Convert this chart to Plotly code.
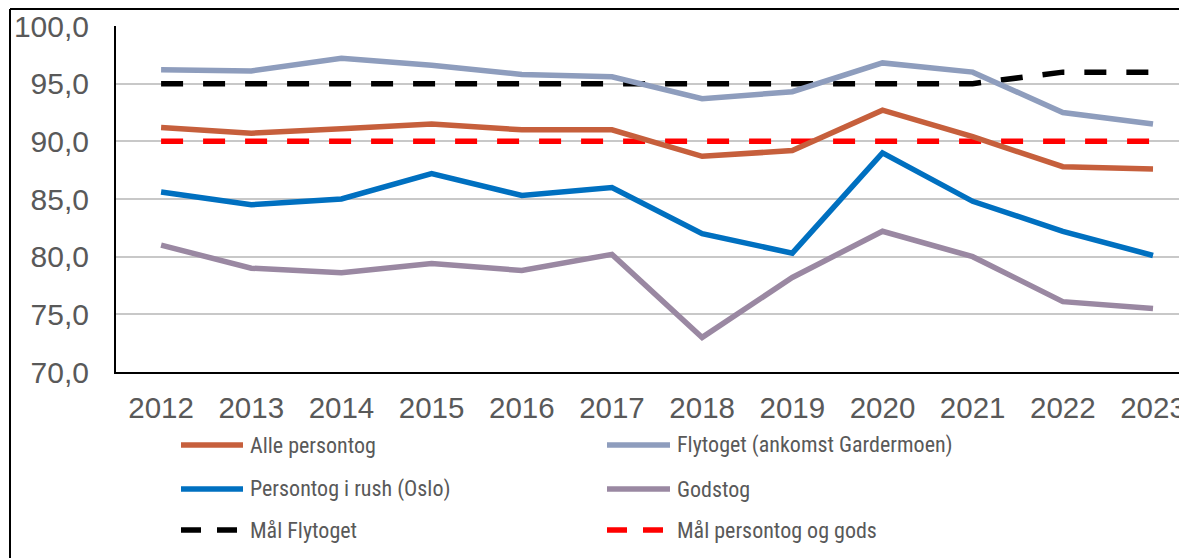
import plotly.graph_objects as go

years = [str(y) for y in range(2012, 2024)]
alle_persontog = [91.2, 90.7, 91.1, 91.5, 91.0, 91.0, 88.7, 89.2, 92.7, 90.4, 87.8, 87.6]
flytoget = [96.2, 96.1, 97.2, 96.6, 95.8, 95.6, 93.7, 94.3, 96.8, 96.0, 92.5, 91.5]
rush_oslo = [85.6, 84.5, 85.0, 87.2, 85.3, 86.0, 82.0, 80.3, 89.0, 84.8, 82.2, 80.1]
godstog = [81.0, 79.0, 78.6, 79.4, 78.8, 80.2, 73.0, 78.2, 82.2, 80.0, 76.1, 75.5]
maal_flytoget = [95, 95, 95, 95, 95, 95, 95, 95, 95, 95, 96, 96]
maal_person_gods = [90, 90, 90, 90, 90, 90, 90, 90, 90, 90, 90, 90]

series = [
    ("Alle persontog", alle_persontog, "#C65F3C", "solid"),
    ("Flytoget (ankomst Gardermoen)", flytoget, "#8E9DBD", "solid"),
    ("Persontog i rush (Oslo)", rush_oslo, "#0070C0", "solid"),
    ("Godstog", godstog, "#9A88A2", "solid"),
    ("Mål Flytoget", maal_flytoget, "#000000", "22px,20px"),
    ("Mål persontog og gods", maal_person_gods, "#FF0000", "22px,20px"),
]

OFF = 8  # page body margin
W, H = 1187 - OFF, 558 - OFF
L, R, T = 116 - OFF, 0, 26 - OFF
B = H - (372 - OFF)
pw, ph = W - L - R, H - T - B

def px(x):  # reference pixel -> paper
    return (x - OFF - L) / pw

def py(y):
    return (H - B - (y - OFF)) / ph

fig = go.Figure()
draw_order = [5, 4, 3, 2, 0, 1]
for i in draw_order:
    name, vals, col, dash = series[i]
    fig.add_trace(go.Scatter(
        x=years, y=vals, name=name, mode="lines",
        line=dict(color=col, width=5.5, dash=dash),
        showlegend=False,
    ))

shapes = []
annotations = []
# outer border (left and top)
shapes.append(dict(type="line", xref="paper", yref="paper",
                   x0=px(10), x1=px(1187 + 20), y0=py(9), y1=py(9),
                   line=dict(color="black", width=2)))
shapes.append(dict(type="line", xref="paper", yref="paper",
                   x0=px(10), x1=px(10), y0=py(9), y1=py(558 + 20),
                   line=dict(color="black", width=2)))

# manual legend
legend_pos = [
    (0, 181, 243, 248, 445),
    (1, 607, 670, 675, 445),
    (2, 181, 243, 248, 489),
    (3, 607, 670, 675, 489),
    (4, 181, 237, 248, 530),
    (5, 607, 663, 675, 530),
]
for idx, x0, x1, xt, yc in legend_pos:
    name, vals, col, dash = series[idx]
    shapes.append(dict(type="line", xref="paper", yref="paper",
                       x0=px(x0), x1=px(x1), y0=py(yc), y1=py(yc),
                       line=dict(color=col, width=5.5,
                                 dash="20px,16px" if dash != "solid" else "solid")))
    annotations.append(dict(xref="paper", yref="paper", x=px(xt), y=py(yc),
                            xanchor="left", yanchor="middle", showarrow=False,
                            text=name,
                            font=dict(family="Liberation Sans Narrow, Roboto Condensed, Liberation Sans, Arial",
                                      size=22, color="#595959")))

fig.update_layout(
    width=W, height=H,
    margin=dict(l=L, r=R, t=T, b=B),
    paper_bgcolor="white", plot_bgcolor="white",
    separators=", ",
    shapes=shapes, annotations=annotations,
    font=dict(family="Liberation Sans, Arial", color="#595959"),
)
fig.update_xaxes(
    type="category", range=[-0.5, 11 + (1187 - 1153) / 90.2],
    showgrid=False, showline=True, linecolor="black", linewidth=2,
    ticks="", tickfont=dict(size=29.5, color="#595959"),
    ticklabelstandoff=9,
)
fig.update_yaxes(
    range=[70, 100], dtick=5, tickformat=".1f",
    showgrid=True, gridcolor="#C8C8C8", gridwidth=1.5,
    showline=True, linecolor="black", linewidth=2,
    zeroline=False,
    ticks="", tickfont=dict(size=30, color="#595959"),
    ticklabelstandoff=19,
)

fig.write_html("out.html")
